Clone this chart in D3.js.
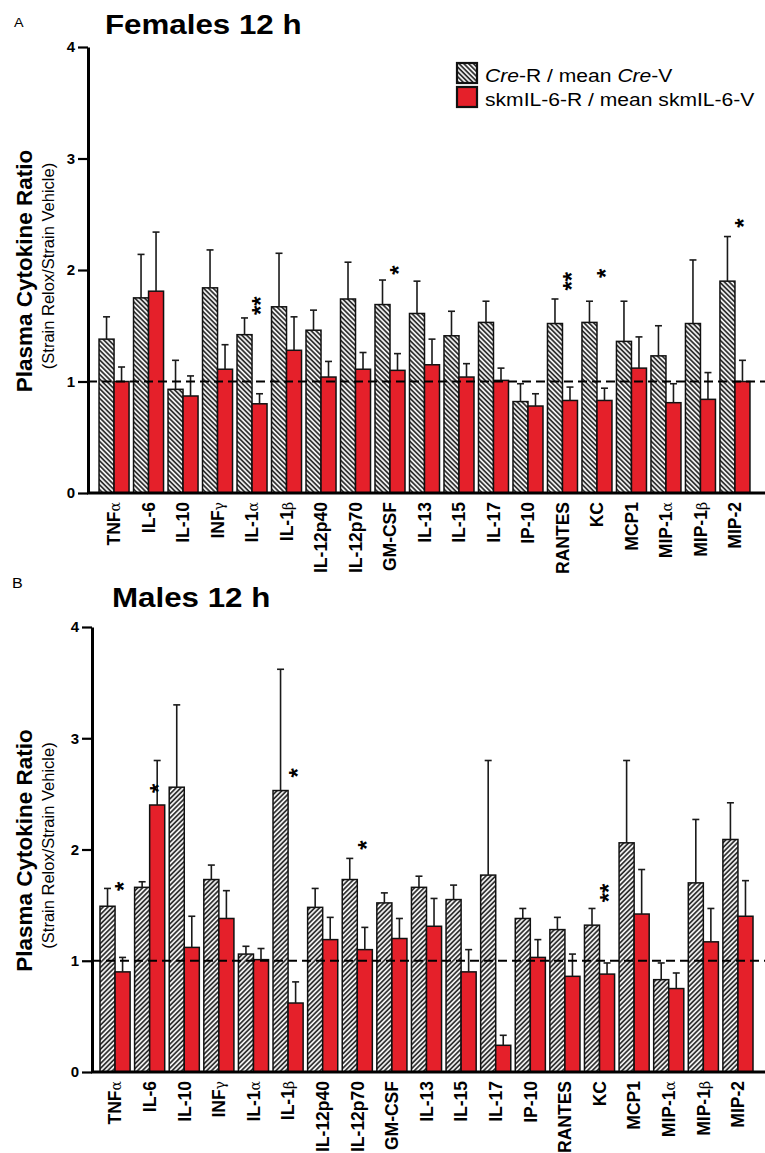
<!DOCTYPE html>
<html>
<head>
<meta charset="utf-8">
<script src="https://cdn.jsdelivr.net/npm/d3@7"></script>
<style>
  body { margin: 0; background: #fff; }
  svg { display: block; font-family: 'Liberation Sans', Arial, sans-serif; }
</style>
</head>
<body>
<svg id="chart"></svg>
<script>
const cytokines = ['TNFα', 'IL-6', 'IL-10', 'INFγ', 'IL-1α', 'IL-1β', 'IL-12p40', 'IL-12p70',
  'GM-CSF', 'IL-13', 'IL-15', 'IL-17', 'IP-10', 'RANTES', 'KC', 'MCP1', 'MIP-1α', 'MIP-1β', 'MIP-2'];

// Females 12 h (ratio, SEM)
const femCre = [1.38, 1.75, 0.93, 1.84, 1.42, 1.67, 1.46, 1.74, 1.69, 1.61, 1.41, 1.53, 0.82, 1.52, 1.53, 1.36, 1.23, 1.52, 1.90];
const femCreSem = [0.20, 0.39, 0.26, 0.34, 0.15, 0.48, 0.18, 0.33, 0.22, 0.29, 0.22, 0.19, 0.16, 0.22, 0.19, 0.36, 0.27, 0.57, 0.40];
const femSkm = [1.00, 1.81, 0.87, 1.11, 0.80, 1.28, 1.04, 1.11, 1.10, 1.15, 1.04, 1.01, 0.78, 0.83, 0.83, 1.12, 0.81, 0.84, 1.00];
const femSkmSem = [0.13, 0.53, 0.18, 0.22, 0.09, 0.30, 0.14, 0.15, 0.15, 0.23, 0.12, 0.11, 0.11, 0.12, 0.11, 0.28, 0.17, 0.24, 0.19];
const femStars = [
  { cytokine: 'IL-1α', mark: '**', level: 1.68 },
  { cytokine: 'GM-CSF', mark: '*', level: 2.00 },
  { cytokine: 'RANTES', mark: '**', level: 1.90 },
  { cytokine: 'KC', mark: '*', level: 1.97 },
  { cytokine: 'MIP-2', mark: '*', level: 2.42 },
];

// Males 12 h
const maleCre = [1.49, 1.66, 2.56, 1.73, 1.06, 2.53, 1.48, 1.73, 1.52, 1.66, 1.55, 1.77, 1.38, 1.28, 1.32, 2.06, 0.83, 1.70, 2.09];
const maleCreSem = [0.16, 0.05, 0.74, 0.13, 0.07, 1.09, 0.17, 0.19, 0.09, 0.10, 0.13, 1.03, 0.09, 0.11, 0.15, 0.74, 0.15, 0.57, 0.33];
const maleSkm = [0.90, 2.40, 1.12, 1.38, 1.01, 0.62, 1.19, 1.10, 1.20, 1.31, 0.90, 0.24, 1.03, 0.86, 0.88, 1.42, 0.75, 1.17, 1.40];
const maleSkmSem = [0.13, 0.40, 0.28, 0.25, 0.10, 0.19, 0.20, 0.20, 0.18, 0.25, 0.20, 0.09, 0.16, 0.20, 0.10, 0.40, 0.14, 0.30, 0.32];
const maleStars = [
  { cytokine: 'TNFα', mark: '*', level: 1.67 },
  { cytokine: 'IL-6', mark: '*', level: 2.55 },
  { cytokine: 'IL-1β', mark: '*', level: 2.69 },
  { cytokine: 'IL-12p70', mark: '*', level: 2.04 },
  { cytokine: 'KC', mark: '**', level: 1.61 },
];

const yTicks = [0, 1, 2, 3, 4];
const RED = '#e5202a';
const width = 765;
const height = 1153;

const svg = d3.select('#chart')
  .attr('width', width)
  .attr('height', height);

svg.append('rect').attr('width', width).attr('height', height).attr('fill', '#fff');

const defs = svg.append('defs');
function hatch(id, angle) {
  const p = defs.append('pattern')
    .attr('id', id)
    .attr('patternUnits', 'userSpaceOnUse')
    .attr('width', 3.4)
    .attr('height', 3.4)
    .attr('patternTransform', `rotate(${angle})`);
  p.append('rect').attr('width', 3.4).attr('height', 3.4).attr('fill', '#fff');
  p.append('line')
    .attr('x1', 1).attr('x2', 1)
    .attr('y1', 0).attr('y2', 3.4)
    .attr('stroke', '#222')
    .attr('stroke-width', 1.7);
}
hatch('hatchA', -45); // "\\\\"
hatch('hatchB', 45); // "////"

function setLabel(sel, label) {
  const m = label.match(/^(.*?)([αβγ])$/);
  if (!m) {
    sel.text(label);
    return;
  }
  sel.append('tspan').text(m[1]);
  sel.append('tspan')
    .attr('font-weight', 'normal')
    .attr('font-family', "'DejaVu Serif', serif")
    .attr('font-size', 14)
    .text(m[2]);
}

function drawPanel(cfg) {
  const {
    axisX, axisY, topY, xRange, cre, creSem, skm, skmSem, stars, hatchId,
    title, titleX, letter, letterX, letterY, letterSize,
  } = cfg;

  const g = svg.append('g');

  const y = d3.scaleLinear().domain([0, 4]).range([axisY, topY]);
  const x0 = d3.scaleBand()
    .domain(cytokines)
    .range(xRange)
    .paddingInner(0.13)
    .paddingOuter(0.065);
  const x1 = d3.scaleBand()
    .domain(['cre', 'skm'])
    .range([0, x0.bandwidth()]);

  const rows = cytokines.map((c, i) => ({
    c,
    bars: [
      { key: 'cre', v: cre[i], sem: creSem[i] },
      { key: 'skm', v: skm[i], sem: skmSem[i] },
    ],
  }));

  // bars
  const groups = g.selectAll('g.group')
    .data(rows)
    .join('g')
    .attr('class', 'group')
    .attr('transform', (d) => `translate(${x0(d.c)},0)`);

  groups.selectAll('rect')
    .data((d) => d.bars)
    .join('rect')
    .attr('x', (d) => x1(d.key))
    .attr('width', x1.bandwidth())
    .attr('y', (d) => y(d.v))
    .attr('height', (d) => y(0) - y(d.v))
    .attr('fill', (d) => (d.key === 'cre' ? `url(#${hatchId})` : RED))
    .attr('stroke', '#111')
    .attr('stroke-width', 1.5);

  // error bars (upper only)
  const err = groups.selectAll('g.err')
    .data((d) => d.bars)
    .join('g')
    .attr('class', 'err')
    .attr('transform', (d) => `translate(${x1(d.key) + x1.bandwidth() / 2},0)`)
    .attr('stroke', '#1a1a1a')
    .attr('stroke-width', 1.6);
  err.append('line')
    .attr('y1', (d) => y(d.v))
    .attr('y2', (d) => y(d.v + d.sem));
  err.append('line')
    .attr('x1', -3.5)
    .attr('x2', 3.5)
    .attr('y1', (d) => y(d.v + d.sem))
    .attr('y2', (d) => y(d.v + d.sem));

  // reference line at ratio 1
  g.append('line')
    .attr('x1', axisX)
    .attr('x2', width)
    .attr('y1', y(1))
    .attr('y2', y(1))
    .attr('stroke', '#000')
    .attr('stroke-width', 2.2)
    .attr('stroke-dasharray', '9,5');

  // x axis line + rotated labels
  g.append('line')
    .attr('x1', axisX - 1)
    .attr('x2', width)
    .attr('y1', axisY)
    .attr('y2', axisY)
    .attr('stroke', '#000')
    .attr('stroke-width', 2.8);

  g.selectAll('text.xlab')
    .data(cytokines)
    .join('text')
    .attr('class', 'xlab')
    .attr('transform', (d) => `translate(${x0(d) + x0.bandwidth() / 2},${axisY + 9}) rotate(-90)`)
    .attr('text-anchor', 'end')
    .attr('dy', '0.36em')
    .attr('font-weight', 'bold')
    .attr('font-size', 17.5)
    .each(function (d) { setLabel(d3.select(this), d); });

  // y axis
  const yAxis = d3.axisLeft(y)
    .tickValues(yTicks)
    .tickSize(10)
    .tickSizeOuter(0)
    .tickPadding(3)
    .tickFormat(d3.format('d'));
  const gy = g.append('g')
    .attr('transform', `translate(${axisX},0)`)
    .call(yAxis);
  gy.select('.domain').attr('stroke-width', 3);
  gy.selectAll('.tick line').attr('stroke-width', 2.2);
  gy.selectAll('.tick text')
    .attr('font-size', 15)
    .attr('font-weight', 'bold')
    .attr('font-family', "'Liberation Sans', Arial, sans-serif");

  // y labels
  const midY = (axisY + topY) / 2;
  g.append('text')
    .attr('transform', `translate(32,${midY + 1}) rotate(-90)`)
    .attr('text-anchor', 'middle')
    .attr('font-weight', 'bold')
    .attr('font-size', 22.5)
    .text('Plasma Cytokine Ratio');
  g.append('text')
    .attr('transform', `translate(54,${midY - 4}) rotate(-90)`)
    .attr('text-anchor', 'middle')
    .attr('font-size', 16.5)
    .text('(Strain Relox/Strain Vehicle)');

  // significance marks
  g.selectAll('text.star')
    .data(stars)
    .join('text')
    .attr('class', 'star')
    .attr('transform', (d) => `translate(${x0(d.cytokine) + x0.bandwidth() / 2 + 3.5},${y(d.level)}) rotate(-90)`)
    .attr('text-anchor', 'middle')
    .attr('dy', '0.58em')
    .attr('font-weight', 'bold')
    .attr('font-size', 24)
    .text((d) => d.mark);

  // title and panel letter
  g.append('text')
    .attr('transform', `translate(${titleX},${cfg.titleY}) scale(1.16,1)`)
    .attr('font-weight', 'bold')
    .attr('font-size', 27)
    .text(title);
  g.append('text')
    .attr('transform', `translate(${letterX},${letterY}) scale(1.15,1)`)
    .attr('font-size', letterSize)
    .text(letter);

  return g;
}

const gA = drawPanel({
  axisX: 88,
  axisY: 493,
  topY: 47,
  xRange: [96.8, 752.2],
  cre: femCre,
  creSem: femCreSem,
  skm: femSkm,
  skmSem: femSkmSem,
  stars: femStars,
  hatchId: 'hatchA',
  title: 'Females 12 h',
  titleX: 105,
  titleY: 34,
  letter: 'A',
  letterX: 14,
  letterY: 27,
  letterSize: 12.5,
});

drawPanel({
  axisX: 92,
  axisY: 1072,
  topY: 627,
  xRange: [97.75, 755.25],
  cre: maleCre,
  creSem: maleCreSem,
  skm: maleSkm,
  skmSem: maleSkmSem,
  stars: maleStars,
  hatchId: 'hatchB',
  title: 'Males 12 h',
  titleX: 112,
  titleY: 607,
  letter: 'B',
  letterX: 12,
  letterY: 588,
  letterSize: 14,
});

// legend (panel A)
const legend = gA.append('g').attr('transform', 'translate(457,63)');
const legendItems = [
  { fill: 'url(#hatchA)', parts: [['Cre', true], ['-R / mean ', false], ['Cre', true], ['-V', false]] },
  { fill: RED, parts: [['skmIL-6-R / mean skmIL-6-V', false]] },
];
const li = legend.selectAll('g')
  .data(legendItems)
  .join('g')
  .attr('transform', (d, i) => `translate(0,${i * 24})`);
li.append('rect')
  .attr('width', 20)
  .attr('height', 20)
  .attr('fill', (d) => d.fill)
  .attr('stroke', '#111')
  .attr('stroke-width', 2.2);
li.append('text')
  .attr('transform', 'translate(28,19) scale(1.14,1)')
  .attr('font-size', 18.5)
  .each(function (d) {
    const t = d3.select(this);
    d.parts.forEach(([s, it]) => {
      t.append('tspan').attr('font-style', it ? 'italic' : 'normal').text(s);
    });
  });
</script>
</body>
</html>
